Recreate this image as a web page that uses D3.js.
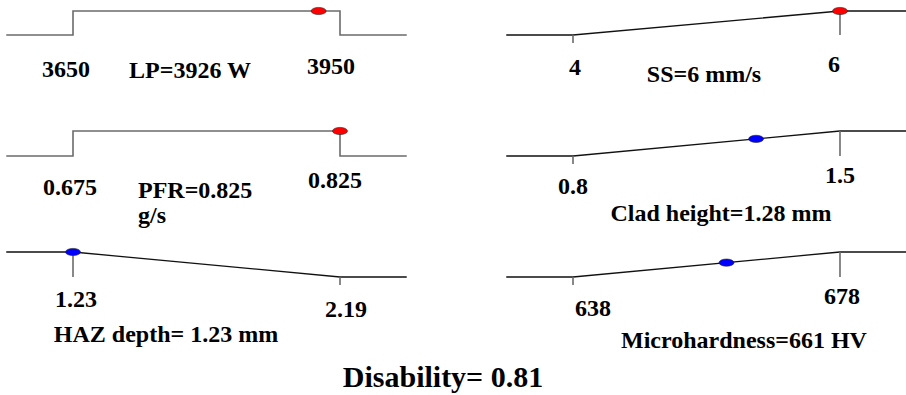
<!DOCTYPE html>
<html>
<head>
<meta charset="utf-8">
<script src="https://cdn.jsdelivr.net/npm/d3@7"></script>
</head>
<body style="margin:0">
<svg id="chart" width="906" height="395" font-family="Liberation Serif" font-weight="bold"></svg>
<script>
// Optimisation results: three process factors and three responses
const names      = ["LP", "SS", "PFR", "Clad height", "HAZ depth", "Microhardness"];
const lows       = [3650, 4, 0.675, 0.8, 1.23, 638];
const highs      = [3950, 6, 0.825, 1.5, 2.19, 678];
const lowLabels  = ["3650", "4", "0.675", "0.8", "1.23", "638"];
const highLabels = ["3950", "6", "0.825", "1.5", "2.19", "678"];
const optimum    = [3926, 6, 0.825, 1.28, 1.23, 661];
const goals      = ["range", "max", "range", "max", "min", "max"];
const kinds      = ["factor", "factor", "factor", "response", "response", "response"];
const titles     = [["LP=3926 W"], ["SS=6 mm/s"], ["PFR=0.825", "g/s"],
                    ["Clad height=1.28 mm"], ["HAZ depth= 1.23 mm"], ["Microhardness=661 HV"]];
const overall    = 0.81;

// Panel frames: x span of [low, high] and y of desirability 0 / 1
const panelFrames = [
  { x0: 73,  x1: 340, yBottom: 35,  yTop: 11 },
  { x0: 573, x1: 840, yBottom: 35,  yTop: 11 },
  { x0: 73,  x1: 340, yBottom: 156, yTop: 131 },
  { x0: 573, x1: 840, yBottom: 156, yTop: 131 },
  { x0: 73,  x1: 340, yBottom: 277, yTop: 252 },
  { x0: 573, x1: 840, yBottom: 277, yTop: 252 }
];
// Text placement inside each panel (offsets from the low/high ticks, baselines)
const textLayout = [
  { lowDx: -7, lowY: 77,  highDx: -9, highY: 74,  titleX: 190, titleY: 78,  anchor: "middle" },
  { lowDx: 2,  lowY: 75,  highDx: -6, highY: 72,  titleX: 704, titleY: 82,  anchor: "middle" },
  { lowDx: -3, lowY: 195, highDx: -5, highY: 188, titleX: 138, titleY: 198, anchor: "start" },
  { lowDx: 0,  lowY: 194, highDx: 0,  highY: 183, titleX: 721, titleY: 221, anchor: "middle" },
  { lowDx: 3,  lowY: 307, highDx: 6,  highY: 317, titleX: 166, titleY: 342, anchor: "middle" },
  { lowDx: 20, lowY: 316, highDx: 2,  highY: 304, titleX: 744, titleY: 348, anchor: "middle" }
];

const grey = "#6b6b6b";
const svg = d3.select("#chart");

function desirability(goal, lo, hi, v) {
  if (goal === "range") return (v >= lo && v <= hi) ? 1 : 0;
  if (goal === "max") return v <= lo ? 0 : v >= hi ? 1 : (v - lo) / (hi - lo);
  return v <= lo ? 1 : v >= hi ? 0 : (hi - v) / (hi - lo);
}

function label(sel, x, y, size, anchor) {
  return sel.append("text")
    .attr("x", x).attr("y", y)
    .attr("text-anchor", anchor)
    .attr("font-family", "Liberation Serif")
    .attr("font-weight", "bold")
    .attr("font-size", size)
    .style("font-family", "Liberation Serif")
    .attr("fill", "#000");
}

names.forEach((name, i) => {
  const f = panelFrames[i], t = textLayout[i];
  const lo = lows[i], hi = highs[i], goal = goals[i];
  const span = hi - lo;
  const x = d3.scaleLinear().domain([lo, hi]).range([f.x0, f.x1]);
  const y = d3.scaleLinear().domain([0, 1]).range([f.yBottom, f.yTop]);
  const g = svg.append("g").attr("class", "panel");

  const xStart = lo - span * 0.25, xEnd = hi + span * 0.25;
  const line = d3.line().x(d => x(d[0])).y(d => y(d[1]));

  if (goal === "range") {
    // step-shaped desirability: 1 inside [lo, hi], 0 outside
    const pts = [[xStart, 0], [lo, 0], [lo, 1], [hi, 1], [hi, 0], [xEnd, 0]];
    g.append("path").attr("d", line(pts))
      .attr("fill", "none").attr("stroke", grey).attr("stroke-width", 1.6);
  } else {
    const dLo = desirability(goal, lo, hi, lo), dHi = desirability(goal, lo, hi, hi);
    const pts = [[xStart, dLo], [lo, dLo], [hi, dHi], [xEnd, dHi]];
    g.append("path").attr("d", line(pts))
      .attr("fill", "none").attr("stroke", "#111").attr("stroke-width", 1.3);
    // end markers: full drop at the d=1 end, short tick at the d=0 end
    [lo, hi].forEach(v => {
      const d = desirability(goal, lo, hi, v);
      const yy = d === 1 ? [y(1), y(0)] : [y(0), y(0) + 8];
      g.append("line")
        .attr("x1", x(v)).attr("x2", x(v)).attr("y1", yy[0]).attr("y2", yy[1])
        .attr("stroke", grey).attr("stroke-width", 1.6);
    });
  }

  // optimum point
  const v = optimum[i];
  g.append("ellipse")
    .attr("cx", x(v)).attr("cy", y(desirability(goal, lo, hi, v)))
    .attr("rx", 7.5).attr("ry", 3.6)
    .attr("fill", kinds[i] === "factor" ? "#ff0000" : "#0000ff")
    .attr("stroke", "#222").attr("stroke-width", 0.6);

  // low / high labels
  label(g, x(lo) + t.lowDx, t.lowY, 24, "middle").text(lowLabels[i]);
  label(g, x(hi) + t.highDx, t.highY, 24, "middle").text(highLabels[i]);

  // setting / prediction caption
  const cap = label(g, t.titleX, t.titleY, 24, t.anchor);
  titles[i].forEach((s, k) => {
    cap.append("tspan").attr("x", t.titleX).attr("dy", k === 0 ? 0 : 25).text(s);
  });
});

label(svg, 443, 387, 30, "middle").text("Disability= " + overall.toFixed(2));
</script>
</body>
</html>
